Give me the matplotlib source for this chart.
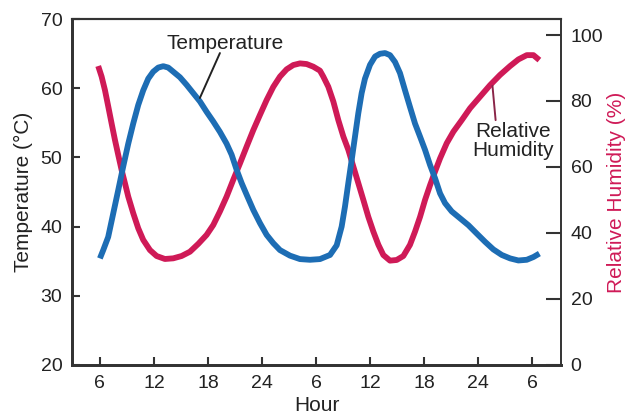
import matplotlib
matplotlib.use("Agg")
import matplotlib.pyplot as plt

plt.rcParams['font.family'] = ['Liberation Sans', 'DejaVu Sans']

# Temperature readings (hour index along the axis, °C)
temp_hours = [6.0, 6.37, 6.92, 7.48, 8.04, 8.59, 9.15, 9.70, 10.26, 10.81, 11.37, 11.92,
              12.48, 13.04, 13.59, 14.15, 14.89, 15.63, 16.37, 17.11, 17.85, 18.59,
              19.33, 20.07, 20.63, 21.19, 21.74, 22.30, 23.04, 23.78, 24.52, 25.26,
              26.0, 27.11, 28.22, 29.33, 30.44, 31.56, 32.30, 32.85, 33.22, 33.59,
              33.96, 34.33, 34.70, 35.07, 35.44, 36.0, 36.56, 37.11, 37.67, 38.22,
              38.78, 39.33, 39.89, 40.44, 41.0, 41.56, 42.11, 42.67, 43.22, 43.78,
              44.33, 45.07, 46.0, 46.93, 47.85, 48.78, 49.70, 50.63, 51.56, 52.48,
              53.41, 54.15, 54.81]
temp_values = [35.4, 36.6, 38.5, 41.9, 45.3, 48.7, 52.0, 54.9, 57.6, 59.7, 61.4, 62.4,
               63.0, 63.2, 63.0, 62.4, 61.6, 60.5, 59.3, 58.1, 56.6, 55.2,
               53.7, 52.0, 50.4, 48.2, 46.3, 44.6, 42.4, 40.5, 38.8, 37.6,
               36.6, 35.8, 35.3, 35.2, 35.3, 35.9, 37.3, 40.0, 42.9, 46.3,
               49.6, 53.0, 56.4, 59.3, 61.4, 63.4, 64.6, 65.0, 65.1, 64.8,
               63.8, 62.2, 59.7, 57.3, 54.9, 53.0, 51.1, 48.9, 47.0, 44.8,
               43.4, 42.2, 41.2, 40.2, 39.0, 37.8, 36.7, 35.9, 35.4, 35.1,
               35.2, 35.6, 36.1]

# Relative humidity readings (hour index along the axis, %)
rh_hours = [5.81, 6.19, 6.56, 6.93, 7.30, 7.67, 8.04, 8.41, 8.78, 9.15, 9.70, 10.26,
            10.81, 11.56, 12.30, 13.22, 14.15, 15.07, 16.0, 16.93, 17.85, 18.59,
            19.33, 20.07, 20.81, 21.56, 22.30, 23.04, 23.78, 24.52, 25.26, 26.0,
            26.74, 27.48, 28.22, 28.96, 29.70, 30.44, 30.81, 31.37, 31.93, 32.48,
            33.04, 33.59, 34.15, 34.70, 35.26, 35.81, 36.37, 36.93, 37.48, 38.22,
            38.96, 39.70, 40.44, 41.0, 41.56, 42.11, 42.67, 43.22, 43.78, 44.52,
            45.26, 46.19, 47.11, 48.22, 49.33, 50.44, 51.56, 52.48, 53.41, 54.15,
            54.81]
rh_values = [90.6, 87.4, 83.3, 78.3, 73.2, 68.2, 63.6, 59.1, 55.1, 51.0, 46.0, 41.4,
             37.9, 34.8, 33.0, 32.1, 32.3, 33.0, 34.3, 36.7, 39.4, 42.4,
             46.5, 51.0, 56.1, 61.1, 66.2, 71.2, 75.8, 80.3, 84.3, 87.4,
             89.6, 90.9, 91.4, 91.2, 90.4, 89.2, 87.4, 84.3, 79.8, 74.2,
             69.2, 65.2, 60.1, 55.1, 50.0, 44.9, 40.4, 36.4, 33.3, 31.6,
             31.8, 33.0, 36.4, 40.4, 44.9, 50.0, 54.5, 58.6, 62.6, 67.2,
             70.7, 74.2, 77.8, 81.3, 84.8, 87.9, 90.6, 92.6, 93.9, 93.9,
             92.4]

xtick_pos = [6, 12, 18, 24, 30, 36, 42, 48, 54]
xtick_labels = ['6', '12', '18', '24', '6', '12', '18', '24', '6']
temp_ticks = [20, 30, 40, 50, 60, 70]
rh_ticks = [0, 20, 40, 60, 80, 100]

blue = '#1d6db4'
red = '#cf1a57'
bg = '#d0eae6'
dark = '#333333'
txt = '#222222'

fig = plt.figure(figsize=(6.26, 4.17), dpi=100)
ax = fig.add_axes([0.115, 0.125, 0.781, 0.829])
ax2 = ax.twinx()

ax.set_zorder(2)
ax2.set_zorder(1)
ax.patch.set_visible(False)
ax2.patch.set_facecolor(bg)

ax2.plot(rh_hours, rh_values, color=red, lw=4.2, solid_capstyle='butt', solid_joinstyle='round')
ax.plot(temp_hours, temp_values, color=blue, lw=4.2, solid_capstyle='butt', solid_joinstyle='round')

ax.set_xlim(2.9, 57.2)
ax.set_ylim(20, 70)
ax2.set_ylim(0, 104.8)

ax.set_xticks(xtick_pos)
ax.set_xticklabels(xtick_labels)
ax.set_yticks(temp_ticks)
ax2.set_yticks(rh_ticks)

ax.tick_params(axis='both', direction='in', length=6, width=1.5, color=dark,
               labelsize=14, labelcolor=txt, pad=7)
ax2.tick_params(axis='y', direction='in', length=11, width=1.5, color=dark,
                labelsize=14, labelcolor=txt, pad=7)

for a in (ax, ax2):
    for s in a.spines.values():
        s.set_color(dark)
    a.spines['left'].set_linewidth(2.0)
    a.spines['bottom'].set_linewidth(2.0)
    a.spines['top'].set_linewidth(1.5)
    a.spines['right'].set_linewidth(1.2)

ax.set_xlabel('Hour', fontsize=15, color=txt, labelpad=3)
ax.set_ylabel('Temperature (°C)', fontsize=15, color=txt, labelpad=5)
ax2.set_ylabel('Relative Humidity (%)', fontsize=15, color=red, labelpad=3)

ax.text(19.9, 66.5, 'Temperature', fontsize=15, color=txt, ha='center', va='center')
ax.annotate('', xy=(17.1, 58.6), xytext=(19.33, 65.1),
            arrowprops=dict(arrowstyle='-', color=txt, lw=1.4, shrinkA=0, shrinkB=0))

ax2.text(51.9, 68.0, 'Relative\nHumidity', fontsize=15, color=txt, ha='center',
         va='center', linespacing=1.0)
ax2.annotate('', xy=(49.6, 84.6), xytext=(49.95, 74.2),
             arrowprops=dict(arrowstyle='-', color='#8a2548', lw=1.4, shrinkA=0, shrinkB=0))

fig.savefig('out.png', dpi=100, facecolor='white')
